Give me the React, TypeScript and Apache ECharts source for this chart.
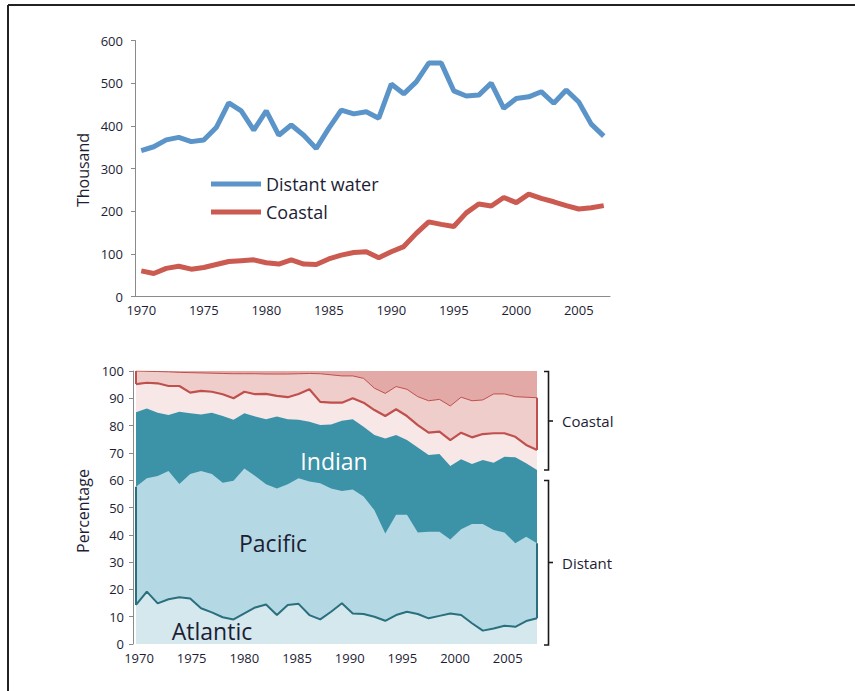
import React, { useEffect, useRef } from "react";
import * as echarts from "echarts";

// ---------- data ----------
const years = [
  "1970", "1971", "1972", "1973", "1974", "1975", "1976", "1977", "1978", "1979",
  "1980", "1981", "1982", "1983", "1984", "1985", "1986", "1987", "1988", "1989",
  "1990", "1991", "1992", "1993", "1994", "1995", "1996", "1997", "1998", "1999",
  "2000", "2001", "2002", "2003", "2004", "2005", "2006", "2007",
];

// Thousand (top chart)
const distantWater = [
  342, 351, 367, 373, 363, 367, 396, 454, 435, 390,
  435, 378, 402, 378, 347, 394, 437, 428, 433, 418,
  498, 475, 503, 547, 547, 482, 470, 472, 500, 441,
  464, 468, 480, 453, 484, 456, 404, 376,
];
const coastal = [
  60, 54, 66, 71, 64, 68, 75, 82, 84, 86,
  79, 76, 86, 76, 75, 88, 97, 103, 105, 91,
  105, 117, 148, 175, 169, 164, 196, 217, 212, 232,
  220, 240, 230, 222, 213, 205, 208, 213,
];

// Cumulative percentage (bottom chart): top edge of each layer
const cumAtlantic = [
  14.3, 19.2, 14.9, 16.4, 17.1, 16.7, 13.1, 11.6, 9.8, 9.0,
  11.2, 13.4, 14.5, 10.6, 14.3, 14.7, 10.6, 9.0, 11.8, 14.9,
  11.2, 11.0, 10.0, 8.5, 10.6, 11.8, 11.0, 9.4, 10.3, 11.2,
  10.6, 7.6, 4.9, 5.7, 6.7, 6.3, 8.4, 9.4,
];
const cumPacific = [
  57.6, 60.7, 61.5, 63.4, 58.6, 62.3, 63.4, 62.3, 59.1, 59.8,
  64.3, 61.5, 58.5, 57.0, 58.5, 60.7, 59.5, 58.9, 57.0, 56.0,
  56.6, 54.0, 49.0, 40.5, 47.3, 47.3, 40.8, 41.1, 41.1, 38.3,
  42.0, 44.0, 44.0, 41.8, 40.8, 36.9, 39.3, 36.9,
];
const cumIndian = [
  84.9, 86.3, 84.7, 83.9, 85.1, 84.5, 84.1, 84.7, 83.5, 82.1,
  84.5, 83.3, 82.3, 83.3, 82.3, 82.1, 81.4, 80.2, 80.4, 81.8,
  82.3, 79.6, 76.6, 75.3, 76.6, 74.7, 72.0, 69.2, 69.6, 65.2,
  67.7, 65.9, 67.4, 66.4, 68.6, 68.4, 66.2, 63.7,
];
const cumCoastalAtlantic = [
  95.2, 95.7, 95.5, 94.5, 94.5, 92.1, 92.7, 92.4, 91.5, 90.0,
  92.4, 91.5, 91.6, 90.9, 90.4, 91.6, 93.3, 88.7, 88.4, 88.4,
  90.0, 88.4, 85.7, 83.5, 86.0, 83.5, 80.2, 77.4, 77.8, 74.7,
  77.4, 75.7, 76.9, 77.2, 77.2, 75.9, 72.9, 71.1,
];
const cumCoastalPacific = [
  100, 99.9, 99.8, 99.7, 99.5, 99.4, 99.3, 99.2, 99.1, 99.0,
  99.0, 99.0, 98.9, 98.9, 98.9, 99.0, 99.1, 99.0, 98.6, 98.2,
  98.2, 97.3, 93.7, 91.8, 94.3, 93.3, 90.6, 89.1, 89.6, 87.2,
  90.4, 89.1, 89.4, 91.6, 91.6, 90.6, 90.4, 90.2,
];

const topYTicks = [0, 100, 200, 300, 400, 500, 600];
const bottomXLabels = [1970, 1975, 1980, 1985, 1990, 1995, 2000, 2005];

// ---------- styles ----------
const TEXT = "#1d1d35";
const AXIS = "#8a8a8a";
const FONT = '"Open Sans", "Noto Sans", sans-serif';
const BLUE = "#5b94c8";
const RED = "#cb5a51";

const pairs = (arr: number[]) => years.map((y, i) => [Number(y), arr[i]]);
const last = years.length - 1;

export default function App() {
  const ref = useRef<HTMLDivElement>(null);

  useEffect(() => {
    if (!ref.current) return;
    const chart = echarts.init(ref.current, null, { renderer: "svg" });

    const areaSeries = (name: string, arr: number[], fill: string, lineW: number, lineC: string) => ({
      name,
      type: "line",
      xAxisIndex: 1,
      yAxisIndex: 1,
      data: pairs(arr),
      symbol: "none",
      silent: true,
      lineStyle: { width: lineW, color: lineC },
      areaStyle: { color: fill, opacity: 1 },
      itemStyle: { color: lineC },
    });
    const edge = (x: number, a: number, b: number, color: string, w: number) => ({
      type: "line",
      xAxisIndex: 1,
      yAxisIndex: 1,
      data: [[x, a], [x, b]],
      symbol: "none",
      silent: true,
      lineStyle: { width: w, color },
    });

    const option: any = {
      animation: false,
      backgroundColor: "#ffffff",
      textStyle: { fontFamily: FONT },
      grid: [
        { left: 135, top: 40.5, width: 475, height: 256, outerBoundsMode: "none" },
        {
          left: 136, top: 371, width: 401, height: 273, outerBoundsMode: "none",
          show: true, backgroundColor: "#e3a9a6", borderWidth: 0,
        },
      ],
      legend: {
        data: ["Distant water", "Coastal"],
        orient: "vertical",
        left: 206,
        top: 170,
        itemWidth: 50,
        itemHeight: 5,
        itemGap: 10,
        icon: "rect",
        textStyle: { fontSize: 18, color: TEXT, fontFamily: FONT },
      },
      xAxis: [
        {
          type: "category",
          gridIndex: 0,
          position: "bottom",
          data: years,
          boundaryGap: true,
          axisLine: { lineStyle: { color: AXIS, width: 1 } },
          axisTick: { inside: true, length: 4, interval: 0, lineStyle: { color: AXIS } },
          axisLabel: {
            interval: (i: number) => i % 5 === 0,
            color: TEXT, fontSize: 13, margin: 7, fontFamily: FONT,
          },
          splitLine: { show: false },
        },
        { type: "value", gridIndex: 1, position: "bottom", min: 1970, max: 2007, show: false },
        {
          type: "value",
          gridIndex: 1,
          position: "bottom",
          min: 1969.715,
          max: 2007.78,
          axisLine: { show: false },
          axisTick: { show: false },
          splitLine: { show: false },
          axisLabel: {
            customValues: bottomXLabels,
            formatter: (v: number) => String(v),
            color: TEXT, fontSize: 13, margin: 7, fontFamily: FONT,
          },
        },
      ],
      yAxis: [
        {
          type: "value",
          gridIndex: 0,
          min: topYTicks[0],
          max: topYTicks[topYTicks.length - 1],
          interval: 100,
          axisLine: { show: true, lineStyle: { color: AXIS, width: 1 } },
          axisTick: { show: true, length: 4, lineStyle: { color: AXIS } },
          splitLine: { show: false },
          axisLabel: { color: TEXT, fontSize: 13, margin: 12, fontFamily: FONT },
        },
        {
          type: "value",
          gridIndex: 1,
          min: 0,
          max: 100,
          interval: 10,
          offset: 3,
          axisLine: { show: true, lineStyle: { color: AXIS, width: 1 } },
          axisTick: { show: true, length: 4, lineStyle: { color: AXIS } },
          splitLine: { show: false },
          axisLabel: { color: TEXT, fontSize: 13, margin: 9, fontFamily: FONT },
        },
      ],
      series: [
        {
          name: "Distant water",
          type: "line",
          xAxisIndex: 0,
          yAxisIndex: 0,
          data: distantWater,
          symbol: "none",
          lineStyle: { width: 5, color: BLUE },
          itemStyle: { color: BLUE },
        },
        {
          name: "Coastal",
          type: "line",
          xAxisIndex: 0,
          yAxisIndex: 0,
          data: coastal,
          symbol: "none",
          lineStyle: { width: 5, color: RED },
          itemStyle: { color: RED },
        },
        areaSeries("Coastal Pacific", cumCoastalPacific, "#efcdcb", 1, "#c0504d"),
        areaSeries("Coastal Atlantic", cumCoastalAtlantic, "#f8e7e7", 2.2, "#c0504d"),
        areaSeries("Indian", cumIndian, "#3c92a7", 0, "#3c92a7"),
        areaSeries("Pacific", cumPacific, "#b5d9e4", 0, "#b5d9e4"),
        areaSeries("Atlantic", cumAtlantic, "#d4e8ee", 2, "#2a6f7d"),
        edge(1970, cumAtlantic[0], cumPacific[0], "#2a6f7d", 2),
        edge(2007, cumAtlantic[last], cumPacific[last], "#2a6f7d", 2),
        edge(1970, cumCoastalAtlantic[0], 100, "#c0504d", 2),
        edge(2007, cumCoastalAtlantic[last], cumCoastalPacific[last], "#c0504d", 2),
      ],
      graphic: [
        // frame
        { type: "line", shape: { x1: 8, y1: 5, x2: 855, y2: 5 }, style: { stroke: "#222", lineWidth: 2 } },
        { type: "line", shape: { x1: 8, y1: 5, x2: 8, y2: 691 }, style: { stroke: "#222", lineWidth: 2 } },
        // axis names
        {
          type: "text", x: 83, y: 170, rotation: Math.PI / 2,
          style: { text: "Thousand", fontSize: 16, fill: TEXT, fontFamily: FONT, align: "center", verticalAlign: "middle" },
        },
        {
          type: "text", x: 83, y: 511, rotation: Math.PI / 2,
          style: { text: "Percentage", fontSize: 16, fill: TEXT, fontFamily: FONT, align: "center", verticalAlign: "middle" },
        },
        // region labels
        {
          type: "text", x: 334, y: 461, z: 10,
          style: { text: "Indian", fontSize: 23, fill: "#ffffff", fontFamily: FONT, align: "center", verticalAlign: "middle" },
        },
        {
          type: "text", x: 273, y: 543, z: 10,
          style: { text: "Pacific", fontSize: 23, fill: TEXT, fontFamily: FONT, align: "center", verticalAlign: "middle" },
        },
        {
          type: "text", x: 212, y: 631, z: 10,
          style: { text: "Atlantic", fontSize: 23, fill: TEXT, fontFamily: FONT, align: "center", verticalAlign: "middle" },
        },
        // brackets
        {
          type: "polyline",
          shape: { points: [[544, 371.5], [548.5, 371.5], [548.5, 470], [544, 470]] },
          style: { stroke: "#1a1a1a", lineWidth: 1.6, fill: null },
        },
        { type: "line", shape: { x1: 548.5, y1: 421, x2: 553, y2: 421 }, style: { stroke: "#1a1a1a", lineWidth: 1.6 } },
        {
          type: "polyline",
          shape: { points: [[544, 480.5], [548.5, 480.5], [548.5, 645], [544, 645]] },
          style: { stroke: "#1a1a1a", lineWidth: 1.6, fill: null },
        },
        { type: "line", shape: { x1: 548.5, y1: 562.5, x2: 553, y2: 562.5 }, style: { stroke: "#1a1a1a", lineWidth: 1.6 } },
        {
          type: "text", x: 562, y: 421,
          style: { text: "Coastal", fontSize: 15, fill: TEXT, fontFamily: FONT, align: "left", verticalAlign: "middle" },
        },
        {
          type: "text", x: 562, y: 562.5,
          style: { text: "Distant", fontSize: 15, fill: TEXT, fontFamily: FONT, align: "left", verticalAlign: "middle" },
        },
      ],
    };

    chart.setOption(option);
    return () => chart.dispose();
  }, []);

  return (
    <div
      ref={ref}
      style={{ position: "absolute", left: 0, top: 0, width: 855, height: 691, background: "#fff" }}
    />
  );
}
